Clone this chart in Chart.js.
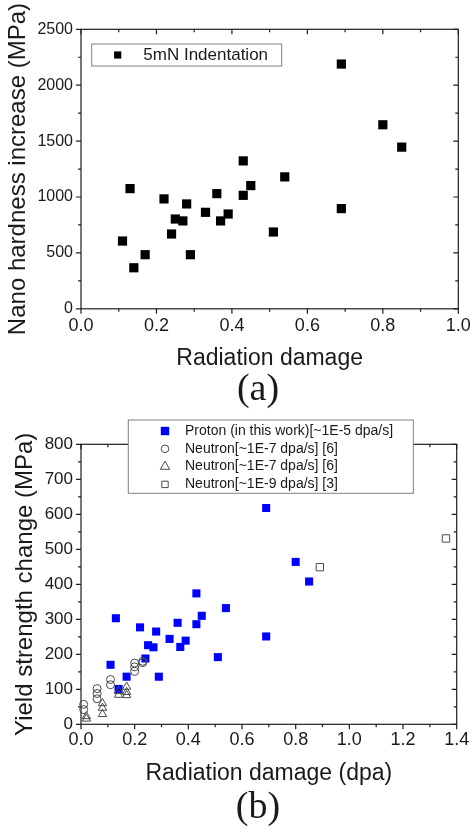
<!DOCTYPE html>
<html>
<head>
<meta charset="utf-8">
<title>Radiation damage</title>
<script src="https://cdn.jsdelivr.net/npm/chart.js@4.4.1/dist/chart.umd.min.js"></script>
<style>
    html, body { margin: 0; padding: 0; background: #fff; }
    canvas { display: block; }
</style>
</head>
<body>
<canvas id="grafica-a" width="470" height="416"></canvas>
<canvas id="grafica-b" width="470" height="414"></canvas>
<script>
//datos de la gráfica (a): dureza nano, indentación 5mN
const danoA = [0.11, 0.13, 0.14, 0.17, 0.22, 0.24, 0.25, 0.27, 0.28, 0.29, 0.33, 0.36, 0.37, 0.39, 0.43, 0.43, 0.45, 0.51, 0.54, 0.69, 0.69, 0.80, 0.85];
const durezaA = [606, 1075, 367, 484, 983, 669, 803, 786, 938, 484, 863, 1030, 786, 848, 1323, 1015, 1102, 687, 1180, 2189, 896, 1646, 1446];
const ticksXA = [0, 0.2, 0.4, 0.6, 0.8, 1.0];
const ticksYA = [0, 500, 1000, 1500, 2000, 2500];

//datos de la gráfica (b): cambio del límite elástico
const danoProton = [0.11, 0.13, 0.14, 0.17, 0.22, 0.24, 0.25, 0.27, 0.28, 0.29, 0.33, 0.36, 0.37, 0.39, 0.43, 0.43, 0.45, 0.51, 0.54, 0.69, 0.69, 0.80, 0.85];
const limiteProton = [170, 303, 101, 136, 277, 188, 226, 220, 265, 136, 244, 290, 221, 239, 374, 286, 310, 192, 332, 618, 251, 464, 408];
const danoCirculos = [0.01, 0.01, 0.06, 0.06, 0.06, 0.11, 0.11, 0.20, 0.20, 0.20, 0.23, 0.23];
const limiteCirculos = [57, 42, 102, 88, 73, 128, 113, 175, 164, 151, 180, 176];
const danoTriangulos = [0.02, 0.02, 0.08, 0.08, 0.08, 0.14, 0.14, 0.17, 0.17, 0.17];
const limiteTriangulos = [23, 16, 60, 47, 29, 95, 84, 107, 92, 83];
const danoCuadros = [0.89, 1.36];
const limiteCuadros = [449, 531];
const ticksXB = [0, 0.2, 0.4, 0.6, 0.8, 1.0, 1.2, 1.4];
const ticksYB = [0, 100, 200, 300, 400, 500, 600, 700, 800];

const fuenteSans = "'Liberation Sans', Arial, Helvetica, sans-serif";
const colorTexto = '#1a1a1a';

Chart.defaults.font.family = fuenteSans;

//une dos arreglos en puntos {x, y}
const puntos = (xs, ys) => xs.map((x, i) => ({ x: x, y: ys[i] }));

//marco de la gráfica con marcas mayores y menores (estilo Origin)
const marcoEjes = {
    id: 'marcoEjes',
    beforeDatasetsDraw(chart) {
        const { ctx, chartArea: a, scales } = chart;
        const xs = scales.x.ticks.map(t => t.value);
        const ys = scales.y.ticks.map(t => t.value);
        ctx.save();
        ctx.strokeStyle = '#1e1e1e';
        ctx.lineWidth = 1.2;
        ctx.strokeRect(a.left, a.top, a.right - a.left, a.bottom - a.top);
        ctx.beginPath();
        const marcaX = (px, largo) => {
            ctx.moveTo(px, a.bottom); ctx.lineTo(px, a.bottom + largo);
            ctx.moveTo(px, a.top); ctx.lineTo(px, a.top + largo);
        };
        const marcaY = (py, largo) => {
            ctx.moveTo(a.left, py); ctx.lineTo(a.left - largo, py);
            ctx.moveTo(a.right, py); ctx.lineTo(a.right - largo, py);
        };
        xs.forEach((v, i) => {
            marcaX(scales.x.getPixelForValue(v), 5);
            if (i < xs.length - 1) marcaX(scales.x.getPixelForValue((v + xs[i + 1]) / 2), 3);
        });
        ys.forEach((v, i) => {
            marcaY(scales.y.getPixelForValue(v), 5);
            if (i < ys.length - 1) marcaY(scales.y.getPixelForValue((v + ys[i + 1]) / 2), 3);
        });
        ctx.stroke();
        ctx.restore();
    }
};

function dibujarMarca(ctx, estilo, x, y, h, relleno, borde, grosor) {
    ctx.beginPath();
    if (estilo === 'rect') {
        ctx.rect(x - h, y - h, 2 * h, 2 * h);
    } else if (estilo === 'circle') {
        ctx.arc(x, y, h, 0, Math.PI * 2);
    } else {
        ctx.moveTo(x, y - h);
        ctx.lineTo(x + h * 0.866, y + h * 0.5);
        ctx.lineTo(x - h * 0.866, y + h * 0.5);
        ctx.closePath();
    }
    ctx.fillStyle = relleno;
    ctx.fill();
    if (grosor > 0) {
        ctx.strokeStyle = borde;
        ctx.lineWidth = grosor;
        ctx.stroke();
    }
}

//leyenda dentro de una caja, tapa el marco donde se cruza
const leyendaCaja = {
    id: 'leyendaCaja',
    afterDraw(chart, args, o) {
        const ctx = chart.ctx;
        ctx.save();
        ctx.fillStyle = '#fff';
        ctx.fillRect(o.left, o.top, o.width, o.height);
        ctx.strokeStyle = '#808080';
        ctx.lineWidth = 1;
        ctx.strokeRect(o.left, o.top, o.width, o.height);
        ctx.font = o.font;
        ctx.textBaseline = 'middle';
        ctx.textAlign = 'left';
        chart.data.datasets.forEach((ds, i) => {
            const y = o.top + o.firstRow + i * o.rowGap;
            dibujarMarca(ctx, ds.pointStyle, o.markerX, y, o.sizes[i], ds.pointBackgroundColor, ds.pointBorderColor, ds.pointBorderWidth);
            ctx.fillStyle = colorTexto;
            ctx.fillText(ds.label, o.textX, y);
        });
        ctx.restore();
    }
};

//rótulo (a) / (b) debajo del eje
const rotulo = {
    id: 'rotulo',
    afterDraw(chart, args, o) {
        const ctx = chart.ctx;
        ctx.save();
        ctx.font = "38px 'Liberation Serif', 'Times New Roman', serif";
        ctx.fillStyle = colorTexto;
        ctx.textAlign = 'center';
        ctx.textBaseline = 'alphabetic';
        ctx.fillText(o.text, o.x, o.y);
        ctx.restore();
    }
};

function crearGrafica(id, cfg) {
    return new Chart(document.getElementById(id), {
        type: 'scatter',
        data: { datasets: cfg.datasets },
        options: {
            responsive: false,
            animation: false,
            events: [],
            layout: { padding: cfg.padding },
            scales: {
                x: {
                    type: 'linear',
                    min: cfg.xTicks[0],
                    max: cfg.xTicks[cfg.xTicks.length - 1],
                    afterBuildTicks: s => { s.ticks = cfg.xTicks.map(v => ({ value: v })); },
                    afterFit: s => { s.height = cfg.xHeight; s.paddingLeft = 0; s.paddingRight = 0; },
                    grid: { display: false, drawTicks: false },
                    border: { display: false },
                    ticks: {
                        padding: cfg.xPad,
                        color: colorTexto,
                        font: { size: 18 },
                        maxRotation: 0,
                        autoSkip: false,
                        callback: v => Number(v).toFixed(1)
                    },
                    title: { display: true, text: cfg.xTitle, color: colorTexto, font: { size: 23 }, padding: 0 }
                },
                y: {
                    type: 'linear',
                    min: cfg.yTicks[0],
                    max: cfg.yTicks[cfg.yTicks.length - 1],
                    afterBuildTicks: s => { s.ticks = cfg.yTicks.map(v => ({ value: v })); },
                    afterFit: s => { s.width = 81; s.paddingTop = 0; s.paddingBottom = 0; },
                    grid: { display: false, drawTicks: false },
                    border: { display: false },
                    ticks: {
                        padding: 8,
                        color: colorTexto,
                        font: { size: cfg.yFont },
                        autoSkip: false,
                        callback: v => String(v)
                    },
                    title: { display: true, text: cfg.yTitle, color: colorTexto, font: { size: 24 }, padding: { top: cfg.yTitlePad, bottom: 0 } }
                }
            },
            plugins: {
                legend: { display: false },
                tooltip: { enabled: false },
                leyendaCaja: cfg.legend,
                rotulo: cfg.caption
            }
        },
        plugins: [marcoEjes, leyendaCaja, rotulo]
    });
}

//gráfica (a)
crearGrafica('grafica-a', {
    padding: { top: 29.3, right: 11.7, bottom: 43.7, left: 0 },
    xHeight: 63.5,
    xPad: 6,
    xTicks: ticksXA,
    yTicks: ticksYA,
    yFont: 16,
    yTitlePad: 3.8,
    xTitle: 'Radiation damage',
    yTitle: 'Nano hardness increase (MPa)',
    datasets: [{
        label: '5mN Indentation',
        data: puntos(danoA, durezaA),
        pointStyle: 'rect',
        pointRadius: 6.5,
        pointBackgroundColor: '#000',
        pointBorderColor: '#000',
        pointBorderWidth: 0,
        clip: false
    }],
    legend: {
        left: 91.7, top: 44, width: 190, height: 22,
        firstRow: 11, rowGap: 0, markerX: 117.7, textX: 143.3,
        font: '17px ' + fuenteSans,
        sizes: [3.6]
    },
    caption: { text: '(a)', x: 258, y: 400 }
});

//gráfica (b)
crearGrafica('grafica-b', {
    padding: { top: 28.3, right: 13.3, bottom: 42.7, left: 0 },
    xHeight: 63,
    xPad: 5,
    xTicks: ticksXB,
    yTicks: ticksYB,
    yFont: 17,
    yTitlePad: 11,
    xTitle: 'Radiation damage (dpa)',
    yTitle: 'Yield strength change (MPa)',
    datasets: [{
        label: 'Proton (in this work)[~1E-5 dpa/s]',
        data: puntos(danoProton, limiteProton),
        pointStyle: 'rect',
        pointRadius: 5.7,
        pointBackgroundColor: '#0000ff',
        pointBorderColor: '#0000ff',
        pointBorderWidth: 0,
        order: 4,
        clip: false
    }, {
        label: 'Neutron[~1E-7 dpa/s] [6]',
        data: puntos(danoCirculos, limiteCirculos),
        pointStyle: 'circle',
        pointRadius: 4,
        pointBackgroundColor: 'rgba(255,255,255,0)',
        pointBorderColor: '#4a4a4a',
        pointBorderWidth: 1,
        order: 3,
        clip: false
    }, {
        label: 'Neutron[~1E-7 dpa/s] [6]',
        data: puntos(danoTriangulos, limiteTriangulos),
        pointStyle: 'triangle',
        pointRadius: 4.8,
        pointBackgroundColor: 'rgba(255,255,255,0)',
        pointBorderColor: '#4a4a4a',
        pointBorderWidth: 1,
        order: 2,
        clip: false
    }, {
        label: 'Neutron[~1E-9 dpa/s] [3]',
        data: puntos(danoCuadros, limiteCuadros),
        pointStyle: 'rect',
        pointRadius: 5.2,
        pointBackgroundColor: 'rgba(255,255,255,0)',
        pointBorderColor: '#4a4a4a',
        pointBorderWidth: 1,
        order: 1,
        clip: false
    }],
    legend: {
        left: 128.3, top: 4, width: 285, height: 73.3,
        firstRow: 11, rowGap: 17.8, markerX: 165, textX: 185,
        font: '14px ' + fuenteSans,
        sizes: [4.2, 3.8, 5.4, 3.2]
    },
    caption: { text: '(b)', x: 258, y: 402.3 }
});
</script>
</body>
</html>
